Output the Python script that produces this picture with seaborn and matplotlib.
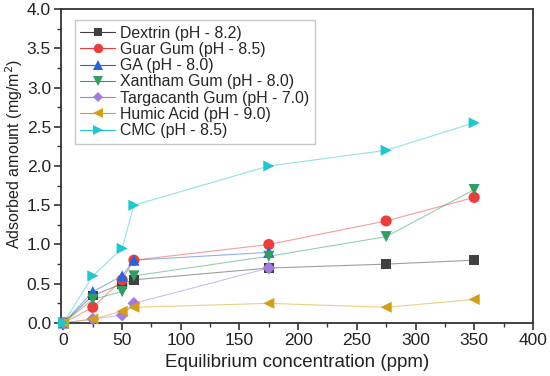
import matplotlib
matplotlib.use("Agg")
import matplotlib.pyplot as plt
from matplotlib.lines import Line2D
from matplotlib.ticker import MultipleLocator
import seaborn as sns
import pandas as pd

sns.set_theme(style="ticks")
plt.rcParams['font.family'] = ['Liberation Sans', 'DejaVu Sans']

labels = ["Dextrin (pH - 8.2)", "Guar Gum (pH - 8.5)", "GA (pH - 8.0)",
          "Xantham Gum (pH - 8.0)", "Targacanth Gum (pH - 7.0)",
          "Humic Acid (pH - 9.0)", "CMC (pH - 8.5)"]

conc_full = [0, 25, 50, 60, 175, 275, 350]
conc_short = [0, 25, 50, 60, 175]

dextrin = [0.0, 0.35, 0.50, 0.55, 0.70, 0.75, 0.80]
guar = [0.0, 0.20, 0.55, 0.80, 1.00, 1.30, 1.60]
ga = [0.0, 0.40, 0.60, 0.80, 0.90]
xantham = [0.0, 0.30, 0.40, 0.60, 0.85, 1.10, 1.70]
targacanth = [0.0, 0.05, 0.10, 0.25, 0.70]
humic = [0.0, 0.05, 0.15, 0.20, 0.25, 0.20, 0.30]
cmc = [0.0, 0.60, 0.95, 1.50, 2.00, 2.20, 2.55]

series = [(conc_full, dextrin), (conc_full, guar), (conc_short, ga),
          (conc_full, xantham), (conc_short, targacanth),
          (conc_full, humic), (conc_full, cmc)]

colors = ["#404040", "#ee3b3b", "#2266dd", "#2e9e62", "#a27ddf", "#d4a012", "#1ec8cf"]
markers = ["s", "o", "^", "v", "D", "<", ">"]
sizes = [7, 8, 8, 8, 6.5, 8, 8]

fig = plt.figure(figsize=(5.5, 3.76), dpi=100)
ax = fig.add_axes([0.1118, 0.141, 0.857, 0.835])

handles = []
for (x, y), lab, c, m, s in zip(series, labels, colors, markers, sizes):
    df = pd.DataFrame({"x": x, "y": y})
    sns.lineplot(data=df, x="x", y="y", ax=ax, color=c, linewidth=0.8, alpha=0.5,
                 estimator=None, sort=False, clip_on=False)
    sns.scatterplot(data=df, x="x", y="y", ax=ax, color=c, marker=m, s=s**2,
                    edgecolor="none", linewidth=0, zorder=3, clip_on=False)
    handles.append(Line2D([], [], color=c, marker=m, markersize=s * 0.85,
                          linewidth=0.8, markeredgewidth=0,
                          label=lab))

ax.set_xlim(-1.7, 400)
ax.set_ylim(0, 4.0)
ax.xaxis.set_major_locator(MultipleLocator(50))
ax.xaxis.set_minor_locator(MultipleLocator(25))
ax.yaxis.set_major_locator(MultipleLocator(0.5))
ax.yaxis.set_minor_locator(MultipleLocator(0.25))
ax.set_yticklabels([f"{v:.1f}" for v in ax.get_yticks()])
ax.tick_params(axis="both", which="major", direction="out", length=5, width=1.2,
               labelsize=12.5, color="#333333", labelcolor="#222222", pad=2.5)
ax.tick_params(axis="both", which="minor", direction="out", length=3, width=1,
               color="#333333")
for sp in ax.spines.values():
    sp.set_linewidth(1.3)
    sp.set_color("#333333")

ax.set_xlabel("Equilibrium concentration (ppm)", fontsize=13.5, color="#222222",
              labelpad=4)
ax.set_ylabel("Adsorbed amount (mg/m$^2$)", fontsize=11.5, color="#222222")
ax.yaxis.set_label_coords(-0.077, 0.54)

leg = ax.legend(handles=handles, loc="upper left", bbox_to_anchor=(0.018, 0.98),
                fontsize=11.4, frameon=True, fancybox=False, edgecolor="#bbbbbb",
                handlelength=2.2, labelspacing=0.08, borderpad=0.35,
                handletextpad=0.3, borderaxespad=0.3)
leg.get_frame().set_linewidth(1.0)

fig.savefig("out.png", dpi=100)
